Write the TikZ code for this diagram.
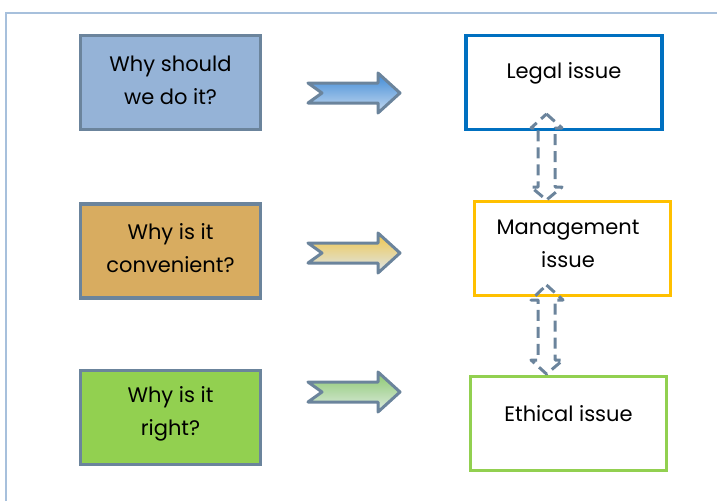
\documentclass[tikz,border=0pt]{standalone}
\usepackage{fontspec}
\setmainfont{Poppins}
\begin{document}
\begin{tikzpicture}[x=1pt,y=-1pt,
  framecol/.style={draw=frameblue,line width=2pt},
  qbox/.style={draw=edgegray,line width=3.2pt,minimum width=180pt,minimum height=94pt,inner sep=0pt},
  abox/.style={fill=white,line width=3.5pt,minimum width=196pt,minimum height=94pt,inner sep=0pt},
  txt/.style={font=\fontsize{21}{33}\selectfont,align=center,text=black,inner sep=0pt},
  blockarrow/.style={draw=edgegray,line width=3pt,line join=round},
  dasharrow/.style={draw=edgegray,line width=3pt,dash pattern=on 11pt off 6pt,line join=round}
]
\definecolor{frameblue}{HTML}{A7C0DC}
\definecolor{edgegray}{HTML}{6B849C}
\definecolor{qblue}{HTML}{95B3D7}
\definecolor{qtan}{HTML}{D8AC60}
\definecolor{qgreen}{HTML}{92D050}
\definecolor{lblue}{HTML}{0070C0}
\definecolor{lyellow}{HTML}{FFC000}
\definecolor{lgreen}{HTML}{92D050}
\useasboundingbox (0,0) rectangle (717,501);
% frame
\draw[framecol] (6,501) -- (6,13) -- (717,13);
% question boxes
\node[qbox,fill=qblue] (q1) at (170.5,82.5) {};
\node[qbox,fill=qtan] (q2) at (170.5,251) {};
\node[qbox,fill=qgreen] (q3) at (170.5,417.5) {};
\node[txt] (t1) at (170.5,80) {Why should\\we do it?};
\node[txt] (t2) at (170.5,248) {Why is it\\convenient?};
\node[txt] (t3) at (170.5,414) {Why is it\\right?};
% answer boxes
\node[abox,draw=lblue] (a1) at (564,82.5) {};
\node[abox,draw=lyellow] (a2) at (572.5,248.5) {};
\node[abox,draw=lgreen] (a3) at (568.5,423.5) {};
\node[txt] (u1) at (564,73) {Legal issue};
\node[txt] (u2) at (568,244) {Management\\issue};
\node[txt] (u3) at (568.5,414) {Ethical issue};
% block arrows
\foreach \yc/\ct/\cb [count=\i] in {93/3F8AD6/C6DAF0, 253/F0C64A/DCE6EE, 392/8CC870/DDEBE0}{
  \definecolor{ctop}{HTML}{\ct}\definecolor{cbot}{HTML}{\cb}
  \path[blockarrow,top color=ctop,bottom color=cbot]
    (308,\yc-10) -- (378,\yc-10) -- (378,\yc-20) -- (400,\yc) -- (378,\yc+20)
    -- (378,\yc+10) -- (308,\yc+10) -- (322,\yc) -- cycle;
}
% dashed double arrows
\draw[dasharrow] (546.5,114) -- (562,128) -- (555,128) -- (555,187) -- (562,187)
  -- (546.5,200) -- (531,187) -- (538,187) -- (538,128) -- (531,128) -- cycle;
\draw[dasharrow] (546.5,285) -- (563,300) -- (555,300) -- (555,360) -- (563,360)
  -- (546.5,374) -- (531,360) -- (538,360) -- (538,300) -- (531,300) -- cycle;
\end{tikzpicture}
\end{document}
